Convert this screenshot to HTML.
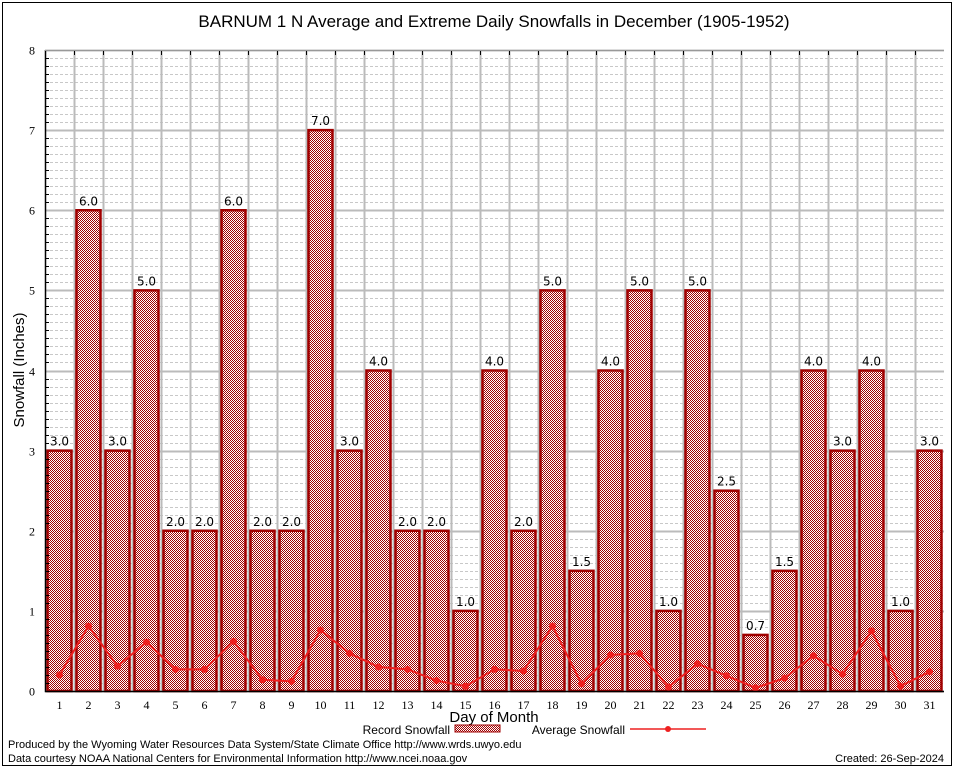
<!DOCTYPE html>
<html><head><meta charset="utf-8"><style>
body{margin:0;background:#fff;}
svg{display:block;font-family:"DejaVu Sans","Liberation Sans",sans-serif;}
</style></head><body>
<svg id="chart" width="954" height="768">
<defs>
<pattern id="chk" width="2" height="2" patternUnits="userSpaceOnUse">
<rect width="2" height="2" fill="#fff"/>
<rect width="1" height="1" fill="#a00000"/>
<rect x="1" y="1" width="1" height="1" fill="#a00000"/>
</pattern>
</defs>
<rect x="2.5" y="2.5" width="949" height="763" fill="none" stroke="#000"/>
<text x="494" y="27" font-size="17" text-anchor="middle" font-family="Liberation Sans, sans-serif">BARNUM 1 N Average and Extreme Daily Snowfalls in December (1905-1952)</text>
<g id="grid"></g>
<g id="bars"></g>
<g id="avg"></g>
<g id="axes"></g>
<text x="24" y="370" font-size="15" text-anchor="middle" transform="rotate(-90 24 370)" font-family="Liberation Sans, sans-serif">Snowfall (Inches)</text>
<text x="494" y="722" font-size="15" text-anchor="middle" font-family="Liberation Sans, sans-serif">Day of Month</text>
<g font-size="12" font-family="Liberation Sans, sans-serif">
<text x="450" y="734" text-anchor="end">Record Snowfall</text>
<rect x="455" y="725" width="45" height="7" fill="url(#chk)" stroke="#a00000"/>
<text x="625" y="734" text-anchor="end">Average Snowfall</text>
<line x1="630" y1="729" x2="706" y2="729" stroke="#ee2020" stroke-width="1.5"/>
<circle cx="668" cy="729" r="3" fill="#ee2020"/>
</g>
<text x="8" y="748" font-size="11" font-family="Liberation Sans, sans-serif">Produced by the Wyoming Water Resources Data System/State Climate Office http://www.wrds.uwyo.edu</text>
<text x="8" y="762" font-size="11" font-family="Liberation Sans, sans-serif">Data courtesy NOAA National Centers for Environmental Information http://www.ncei.noaa.gov</text>
<text x="944" y="762" font-size="11" text-anchor="end" font-family="Liberation Sans, sans-serif">Created:  26-Sep-2024</text>
</svg>
<script>
const days=[1,2,3,4,5,6,7,8,9,10,11,12,13,14,15,16,17,18,19,20,21,22,23,24,25,26,27,28,29,30,31];
const recordSnow=[3.0,6.0,3.0,5.0,2.0,2.0,6.0,2.0,2.0,7.0,3.0,4.0,2.0,2.0,1.0,4.0,2.0,5.0,1.5,4.0,5.0,1.0,5.0,2.5,0.7,1.5,4.0,3.0,4.0,1.0,3.0];
const avgSnow=[0.2,0.81,0.31,0.61,0.27,0.27,0.62,0.14,0.12,0.76,0.47,0.3,0.27,0.13,0.06,0.27,0.25,0.81,0.09,0.45,0.47,0.05,0.34,0.19,0.04,0.16,0.44,0.21,0.75,0.06,0.24];
const yTicks=[0,1,2,3,4,5,6,7,8];
const L=45,R=944,T=50,B=691,yMax=8;
const NS="http://www.w3.org/2000/svg";
const slot=(R-L)/days.length;
const xs=i=>L+slot*(i+0.5);
const ys=v=>B-(v/yMax)*(B-T);
function mk(t,a,p){const e=document.createElementNS(NS,t);for(const k in a)e.setAttribute(k,a[k]);p.appendChild(e);return e;}
const g=document.getElementById('grid'),gb=document.getElementById('bars'),ga=document.getElementById('avg'),gx=document.getElementById('axes');
for(let v=0.1;v<yMax;v+=0.1){if(Math.abs(v-Math.round(v))<0.01)continue;const y=Math.round(ys(v))+0.5;
const l=mk('line',{x1:L,x2:R,y1:y,y2:y,stroke:'#c8c8c8','stroke-dasharray':'3,2'},g);


const tk=mk('line',{x1:L,x2:L+4,y1:y,y2:y,stroke:'#000'},gx);

}
yTicks.forEach(v=>{const y=Math.round(ys(v))+0.5;
const l=mk('line',{x1:L,x2:R,y1:y,y2:y,stroke:'#bbb','stroke-width':2},g);


const t=mk('text',{x:L-10,y:y+4,'font-size':12,'text-anchor':'end','font-family':'Liberation Serif, serif'},gx);t.textContent=v;

});
for(let i=1;i<days.length;i++){const x=Math.round(L+slot*i)+0.5;
const l=mk('line',{x1:x,x2:x,y1:T,y2:B,stroke:'#bbb','stroke-width':2},g);


const tk=mk('line',{x1:x,x2:x,y1:T,y2:T+5,stroke:'#000'},gx);

}
days.forEach((d,i)=>{const x=xs(i),y=ys(recordSnow[i]);
const r=mk('rect',{x:x-12,y:y,width:24,height:B-y,fill:'url(#chk)',stroke:'#a00000','stroke-width':2.5},gb);


const t=mk('text',{x:x,y:y-5,'font-size':12,'text-anchor':'middle'},gb);t.textContent=recordSnow[i].toFixed(1);


const xl=mk('text',{x:x,y:B+18,'font-size':12,'text-anchor':'middle','font-family':'Liberation Serif, serif'},gx);xl.textContent=d;

});
const pl=mk('polyline',{points:avgSnow.map((v,i)=>xs(i)+','+ys(v)).join(' '),fill:'none',stroke:'#ee2020','stroke-width':2},ga);


avgSnow.forEach((v,i)=>{const c=mk('circle',{cx:xs(i),cy:ys(v),r:3.5,fill:'#ee2020'},ga);

});
const ax=mk('path',{d:`M${L+0.5},${T} V${B+0.5} H${R}`,fill:'none',stroke:'#000','stroke-width':1.5},gx);


const topBorder=mk('line',{x1:L,x2:R,y1:T+0.5,y2:T+0.5,stroke:'#999'},gx);


</script>
</body></html>
